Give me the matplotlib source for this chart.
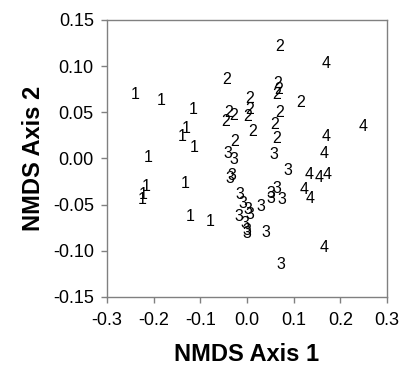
import matplotlib
matplotlib.use("Agg")
import matplotlib.pyplot as plt

plt.rcParams['font.family'] = ['Liberation Sans', 'DejaVu Sans']

# NMDS scores, one list per group
g1_x = [-0.240, -0.183, -0.116, -0.131, -0.140, -0.114, -0.212, -0.217, -0.222, -0.224, -0.133, -0.121, -0.079]
g1_y = [0.0688, 0.0626, 0.0525, 0.0327, 0.0236, 0.0114, 0.0011, -0.0305, -0.0395, -0.0449, -0.0269, -0.0630, -0.0684]

g2_x = [-0.0435, 0.0692, 0.0658, 0.0686, 0.0643, 0.0064, 0.1157, 0.0064, 0.0021, -0.0401, -0.0279, -0.0450,
        0.0707, 0.0600, 0.0636, 0.0114, -0.0257]
g2_y = [0.0850, 0.1211, 0.0814, 0.0742, 0.0688, 0.0652, 0.0609, 0.0525, 0.0449, 0.0496, 0.0464, 0.0399,
        0.0496, 0.0363, 0.0219, 0.0290, 0.0182]

g3_x = [-0.0401, -0.0272, 0.0585, -0.0328, -0.0375, -0.0150, -0.0079, 0.0028, 0.0289, 0.0885, 0.0636,
        0.0514, 0.0514, 0.0739, -0.0171, 0.0064, -0.0043, -0.0006, 0.0006, 0.0407, 0.0729]
g3_y = [0.0056, -0.0016, 0.0038, -0.0184, -0.0222, -0.0395, -0.0485, -0.0558, -0.0520, -0.0130, -0.0330,
        -0.0379, -0.0433, -0.0444, -0.0630, -0.0612, -0.0702, -0.0780, -0.0812, -0.0807, -0.1153]

g4_x = [0.1693, 0.2492, 0.1693, 0.1650, 0.1335, 0.1549, 0.1708, 0.1228, 0.1350, 0.1650]
g4_y = [0.1031, 0.0344, 0.0236, 0.0054, -0.0179, -0.0206, -0.0179, -0.0334, -0.0431, -0.0966]

groups = [("1", g1_x, g1_y), ("2", g2_x, g2_y), ("3", g3_x, g3_y), ("4", g4_x, g4_y)]

fig = plt.figure(figsize=(4.04, 3.68), dpi=100)
ax = fig.add_axes([0.265, 0.193, 0.693, 0.753])

for label, xs, ys in groups:
    for x, y in zip(xs, ys):
        ax.text(x, y, label, ha='center', va='center', fontsize=11.5, color='black')

ax.set_xlim(-0.3, 0.3)
ax.set_ylim(-0.15, 0.15)
ax.set_xticks([-0.3, -0.2, -0.1, 0.0, 0.1, 0.2, 0.3])
ax.set_yticks([-0.15, -0.10, -0.05, 0.0, 0.05, 0.10, 0.15])
ax.set_xticklabels(['-0.3', '-0.2', '-0.1', '0.0', '0.1', '0.2', '0.3'])
ax.set_yticklabels(['-0.15', '-0.10', '-0.05', '0.00', '0.05', '0.10', '0.15'])
ax.tick_params(direction='out', length=4, width=1, color='#808080', labelsize=13)
ax.tick_params(axis='x', pad=7)
ax.tick_params(axis='y', pad=5.5)

for s in ax.spines.values():
    s.set_color('#808080')
    s.set_linewidth(1)

ax.set_xlabel("NMDS Axis 1", fontsize=17, fontweight='bold', labelpad=10)
ax.set_ylabel("NMDS Axis 2", fontsize=17, fontweight='bold', labelpad=6)

fig.savefig("out.png", dpi=100)
